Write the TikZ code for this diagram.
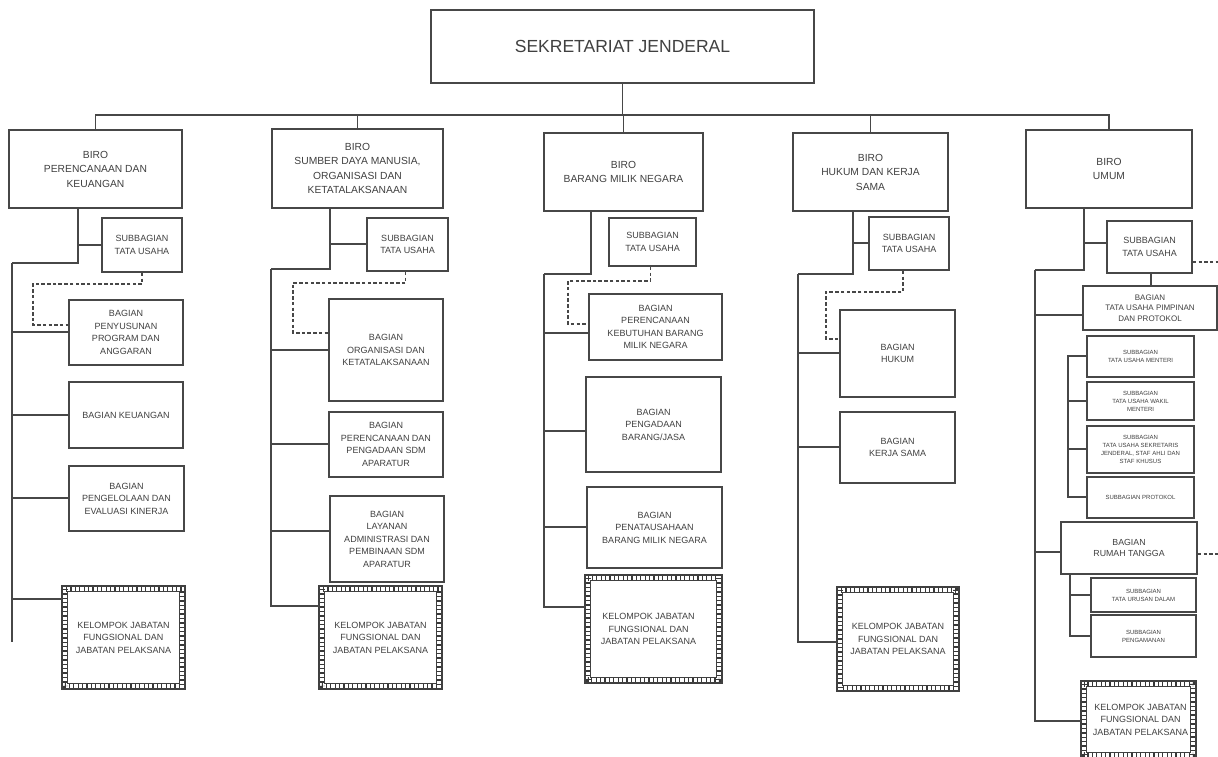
\documentclass[tikz,border=0pt]{standalone}
\usepackage{fontspec}
\setmainfont{Liberation Sans}
\usetikzlibrary{calc}

\tikzset{
  link/.style={draw=black!72, line width=1.8pt},
  dlink/.style={link, line width=1.6pt, dash pattern=on 3.5pt off 2.2pt},
  box/.style={draw=black!72, line width=1.7pt, fill=white, align=center,
    text=black!75, inner sep=1pt},
  headbox/.style={box, font=\fontsize{17.5}{20}\selectfont},
  biro/.style={box, font=\fontsize{10.3}{14.5}\selectfont},
  bag/.style={box, font=\fontsize{9}{12.5}\selectfont},
  midbox/.style={box, font=\fontsize{8}{10.5}\selectfont},
  rtbox/.style={box, font=\fontsize{8.8}{11}\selectfont},
  mini/.style={box, line width=1.5pt, font=\fontsize{6}{8}\selectfont},
  kel/.style={bag, draw=none},
  ladder/.style={draw=black!78, line width=5.4pt, dash pattern=on 1.3pt off 3.1pt},
}

% box from its corners: style, name, x1, y1, x2, y2, text
\newcommand\ob[7]{%
  \node[#1, minimum width={(#5-#3)*1pt}, minimum height={(#6-#4)*1pt}]
    (#2) at ({(#3+#5)/2},{(#4+#6)/2}) {#7};}

% ladder-style double frame round a node
\newcommand\ladderframe[1]{%
  \draw[ladder] ([shift={(2.7pt,-2.7pt)}]#1.north west) rectangle ([shift={(-2.7pt,2.7pt)}]#1.south east);
  \draw[draw=black!75, line width=1.4pt] (#1.north west) rectangle (#1.south east);
  \draw[draw=black!75, line width=1.4pt] ([shift={(5.4pt,-5.4pt)}]#1.north west) rectangle ([shift={(-5.4pt,5.4pt)}]#1.south east);}

\begin{document}
\begin{tikzpicture}[x=1pt,y=-1pt]
\useasboundingbox (0,0) rectangle (1218,757);
\fill[white] (0,0) rectangle (1218,757);

% ---------- head ----------
\ob{headbox}{sj}{431}{10}{814}{83}{SEKRETARIAT JENDERAL}

% ---------- column 1 ----------
\ob{biro}{c1b}{9}{130}{182}{208}{BIRO\\PERENCANAAN DAN\\KEUANGAN}
\ob{bag}{c1t}{102}{218}{182}{272}{SUBBAGIAN\\TATA USAHA}
\ob{bag}{c1p}{69}{300}{183}{365}{BAGIAN\\PENYUSUNAN\\PROGRAM DAN\\ANGGARAN}
\ob{bag}{c1k}{69}{382}{183}{448}{BAGIAN KEUANGAN}
\ob{bag}{c1e}{69}{466}{184}{531}{BAGIAN\\PENGELOLAAN DAN\\EVALUASI KINERJA}
\ob{kel}{c1j}{63}{587}{184}{688}{}
\ladderframe{c1j}
\node[kel, fill=none] at (c1j) {KELOMPOK JABATAN\\FUNGSIONAL DAN\\JABATAN PELAKSANA};

% ---------- column 2 ----------
\ob{biro}{c2b}{272}{129}{443}{208}{BIRO\\SUMBER DAYA MANUSIA,\\ORGANISASI DAN\\KETATALAKSANAAN}
\ob{bag}{c2t}{367}{218}{448}{271}{SUBBAGIAN\\TATA USAHA}
\ob{bag}{c2o}{329}{299}{443}{401}{BAGIAN\\ORGANISASI DAN\\KETATALAKSANAAN}
\ob{bag}{c2p}{329}{412}{443}{477}{BAGIAN\\PERENCANAAN DAN\\PENGADAAN SDM\\APARATUR}
\ob{bag}{c2l}{330}{496}{444}{582}{BAGIAN\\LAYANAN\\ADMINISTRASI DAN\\PEMBINAAN SDM\\APARATUR}
\ob{kel}{c2j}{320}{587}{441}{688}{}
\ladderframe{c2j}
\node[kel, fill=none] at (c2j) {KELOMPOK JABATAN\\FUNGSIONAL DAN\\JABATAN PELAKSANA};

% ---------- column 3 ----------
\ob{biro}{c3b}{544}{133}{703}{211}{BIRO\\BARANG MILIK NEGARA}
\ob{bag}{c3t}{609}{218}{696}{266}{SUBBAGIAN\\TATA USAHA}
\ob{bag}{c3r}{589}{294}{722}{360}{BAGIAN\\PERENCANAAN\\KEBUTUHAN BARANG\\MILIK NEGARA}
\ob{bag}{c3g}{586}{377}{721}{472}{BAGIAN\\PENGADAAN\\BARANG/JASA}
\ob{bag}{c3n}{587}{487}{722}{568}{BAGIAN\\PENATAUSAHAAN\\BARANG MILIK NEGARA}
\ob{kel}{c3j}{586}{576}{721}{682}{}
\ladderframe{c3j}
\node[kel, fill=none] at ([xshift=-5pt]c3j.center) {KELOMPOK JABATAN\\FUNGSIONAL DAN\\JABATAN PELAKSANA};

% ---------- column 4 ----------
\ob{biro}{c4b}{793}{133}{948}{211}{BIRO\\HUKUM DAN KERJA\\SAMA}
\ob{bag}{c4t}{869}{217}{949}{270}{SUBBAGIAN\\TATA USAHA}
\ob{bag}{c4h}{840}{310}{955}{397}{BAGIAN\\HUKUM}
\ob{bag}{c4w}{840}{412}{955}{483}{BAGIAN\\KERJA SAMA}
\ob{kel}{c4j}{838}{588}{958}{690}{}
\ladderframe{c4j}
\node[kel, fill=none] at (c4j) {KELOMPOK JABATAN\\FUNGSIONAL DAN\\JABATAN PELAKSANA};

% ---------- column 5 ----------
\ob{biro}{c5b}{1026}{130}{1192}{208}{BIRO\\UMUM}
\ob{bag}{c5t}{1107}{221}{1192}{273}{SUBBAGIAN\\TATA USAHA}
\ob{midbox}{c5p}{1083}{286}{1217}{330}{BAGIAN\\TATA USAHA PIMPINAN\\DAN PROTOKOL}
\ob{mini}{c5s1}{1087}{336}{1194}{377}{SUBBAGIAN\\TATA USAHA MENTERI}
\ob{mini}{c5s2}{1087}{382}{1194}{420}{SUBBAGIAN\\TATA USAHA WAKIL\\MENTERI}
\ob{mini}{c5s3}{1087}{426}{1194}{473}{SUBBAGIAN\\TATA USAHA SEKRETARIS\\JENDERAL, STAF AHLI DAN\\STAF KHUSUS}
\ob{mini}{c5s4}{1087}{477}{1194}{518}{SUBBAGIAN PROTOKOL}
\ob{rtbox}{c5r}{1061}{522}{1197}{574}{BAGIAN\\RUMAH TANGGA}
\ob{mini}{c5s5}{1091}{578}{1196}{612}{SUBBAGIAN\\TATA URUSAN DALAM}
\ob{mini}{c5s6}{1091}{615}{1196}{657}{SUBBAGIAN\\PENGAMANAN}
\ob{kel}{c5j}{1082}{682}{1195}{757}{}
\ladderframe{c5j}
\node[kel, fill=none] at ([xshift=2pt]c5j.center) {KELOMPOK JABATAN\\FUNGSIONAL DAN\\JABATAN PELAKSANA};

% ---------- head to bureaus ----------
\coordinate (bus) at (0,115);
\draw[link] (sj.south) -- (sj.south |- bus);
\draw[link] (c1b.north) |- (c5b.north |- bus) -- (c5b.north);
\foreach \b in {c2b,c3b,c4b} \draw[link] (\b.north) -- (\b.north |- bus);

% ---------- column 1 links ----------
\coordinate (c1s) at (12,263);
\coordinate (c1z) at (12,642);
\coordinate (c1d) at (33,284);
\draw[link] ([xshift=-17.5pt]c1b.south) |- (c1s);
\draw[link] ([xshift=-17.5pt]c1b.south) |- (c1t.west);
\draw[link] (c1s) -- (c1z);
\draw[link] (c1s) |- ([yshift=0.5pt]c1p.west);
\draw[link] (c1s) |- (c1k.west);
\draw[link] (c1s) |- ([yshift=0.5pt]c1e.west);
\draw[link] (c1s) |- ([yshift=-13pt]c1j.north west);
\draw[dlink] (c1t.south) |- (c1d) |- ([yshift=7.5pt]c1p.west);

% ---------- column 2 links ----------
\coordinate (c2s) at (271,269);
\coordinate (c2d) at (293,283);
\draw[link] ([xshift=-27.5pt]c2b.south) |- (c2s);
\draw[link] ([xshift=-27.5pt]c2b.south) |- ([yshift=0.5pt]c2t.west);
\draw[link] (c2s) |- (c2o.west);
\draw[link] (c2s) |- ([yshift=0.5pt]c2p.west);
\draw[link] (c2s) |- ([yshift=8pt]c2l.west);
\draw[link] (c2s) |- ([yshift=-20pt]c2j.north west);
\draw[dlink] ([xshift=-2pt]c2t.south) |- (c2d) |- ([yshift=17pt]c2o.west);

% ---------- column 3 links ----------
\coordinate (c3s) at (544,274);
\coordinate (c3d) at (568,281);
\draw[link] ([xshift=-32.5pt]c3b.south) |- (c3s);
\draw[link] (c3s) |- ([yshift=-6pt]c3r.west);
\draw[link] (c3s) |- ([yshift=-6.5pt]c3g.west);
\draw[link] (c3s) |- ([yshift=0.5pt]c3n.west);
\draw[link] (c3s) |- ([yshift=-32pt]c3j.north west);
\draw[dlink] ([xshift=-2pt]c3t.south) |- (c3d) |- ([yshift=3pt]c3r.west);

% ---------- column 4 links ----------
\coordinate (c4s) at (798,274);
\coordinate (c4d) at (826,292);
\draw[link] ([xshift=-17.5pt]c4b.south) |- (c4s);
\draw[link] ([xshift=-17.5pt]c4b.south) |- ([yshift=0.5pt]c4t.west);
\draw[link] (c4s) |- ([yshift=0.5pt]c4h.west);
\draw[link] (c4s) |- ([yshift=0.5pt]c4w.west);
\draw[link] (c4s) |- ([yshift=-55pt]c4j.north west);
\draw[dlink] ([xshift=-6pt]c4t.south) |- (c4d) |- ([yshift=14.5pt]c4h.west);

% ---------- column 5 links ----------
\coordinate (c5s) at (1035,270);
\coordinate (c5q) at (1068,0);
\coordinate (c5o1) at (1218,262);
\coordinate (c5o2) at (1218,554);
\draw[link] ([xshift=-25pt]c5b.south) |- (c5s);
\draw[link] ([xshift=-25pt]c5b.south) |- ([yshift=4pt]c5t.west);
\draw[link] (c5s) |- ([yshift=-7pt]c5p.west);
\draw[link] (c5s) |- ([yshift=-4pt]c5r.west);
\draw[link] (c5s) |- ([yshift=-40pt]c5j.north west);
\draw[link] ([xshift=1.5pt]c5t.south) -- ([xshift=1.5pt]c5t.south |- c5p.north);
\draw[link] ([yshift=0.5pt]c5s1.west) -- ([yshift=0.5pt]c5s1.west -| c5q) |- ([yshift=0.5pt]c5s4.west);
\draw[link] (c5s2.west) -- (c5s2.west -| c5q);
\draw[link] ([yshift=0.5pt]c5s3.west) -- ([yshift=0.5pt]c5s3.west -| c5q);
\draw[link] ([xshift=10pt]c5r.south west) |- (c5s6.west);
\draw[link] ([xshift=10pt]c5r.south west) |- (c5s5.west);
\draw[dlink] (c5t.east |- c5o1) -- (c5o1);
\draw[dlink] (c5r.east |- c5o2) -- (c5o2);

\end{tikzpicture}
\end{document}
